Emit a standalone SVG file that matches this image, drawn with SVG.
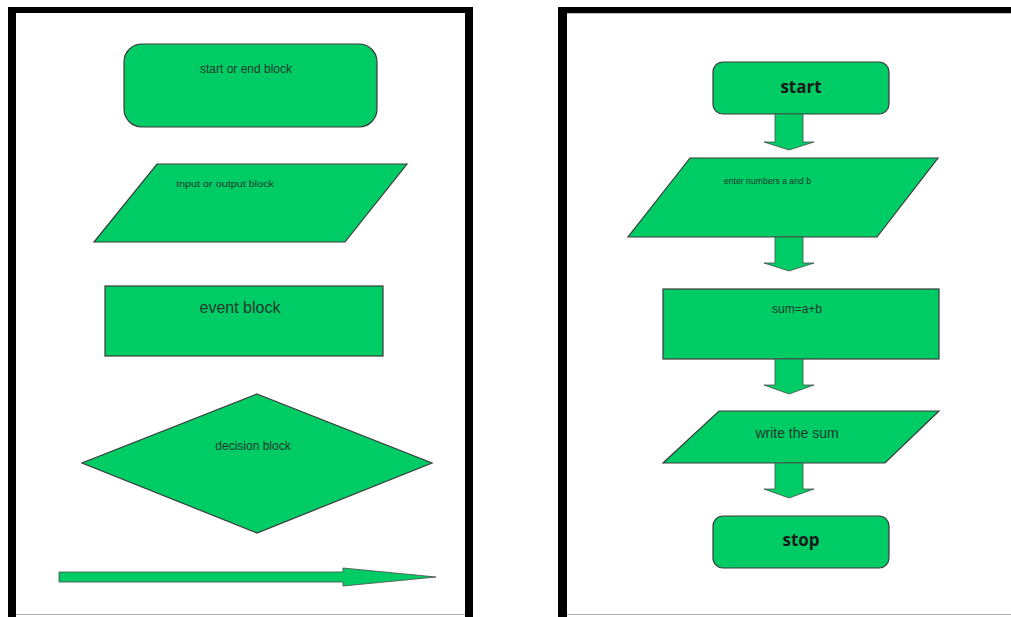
<svg xmlns="http://www.w3.org/2000/svg" width="1011" height="617" viewBox="0 0 1011 617">
<style>
.shape{fill:#00cc66;stroke:#3a3a3a;stroke-width:1.2}
.t{font-family:"Liberation Sans",Arial,sans-serif;fill:#1f3a2a;text-anchor:middle}
.s{font-family:"Liberation Sans",Arial,sans-serif;fill:#1f3a2a;text-anchor:start}
.b{font-family:"Open Sans","Liberation Sans",sans-serif;font-weight:bold;fill:#1a1a1a;text-anchor:middle;font-size:17px}
.arr{fill:#00cc66;stroke:#4a4a4a;stroke-width:0.8}
.bar{fill:#000}
</style>
<rect width="1011" height="617" fill="#ffffff"/>
<g id="panels">
<rect class="bar" x="8" y="7" width="8" height="610"/>
<rect class="bar" x="8" y="7" width="465" height="6"/>
<rect class="bar" x="465" y="7" width="8" height="610"/>
<line x1="16" y1="614.5" x2="465" y2="614.5" stroke="#b0b0b0" stroke-width="1.2"/>
<rect class="bar" x="558" y="7" width="9" height="610"/>
<rect class="bar" x="558" y="7" width="453" height="6"/>
<line x1="567" y1="13.5" x2="1011" y2="13.5" stroke="#c0c0c0" stroke-width="1"/>
<line x1="567" y1="614.5" x2="1011" y2="614.5" stroke="#b0b0b0" stroke-width="1.2"/>
</g>
<g id="legend-start-end">
<rect class="shape" x="124" y="44" width="253" height="83" rx="18"/>
<text class="t" x="246" y="73" font-size="12">start or end block</text>
</g>
<g id="legend-input-output">
<polygon class="shape" points="157,164 407,164 345,242 94,242"/>
<text class="s" x="176" y="187" font-size="9" textLength="98" lengthAdjust="spacingAndGlyphs">Input or output block</text>
</g>
<g id="legend-event">
<rect class="shape" x="105" y="286" width="278" height="70"/>
<text class="t" x="240" y="313" font-size="16">event block</text>
</g>
<g id="legend-decision">
<polygon class="shape" points="257,394 432,463 257,533 82,463"/>
<text class="t" x="253" y="450" font-size="12">decision block</text>
</g>
<g id="legend-arrow">
<polygon class="arr" points="59,572 343,572 343,568 436,577 343,586 343,582 59,582"/>
</g>
<g id="start">
<rect class="shape" x="713" y="62" width="176" height="52" rx="10"/>
<text class="b" x="801" y="93">start</text>
</g>
<g id="input">
<polygon class="shape" points="690,158 938,158 877,237 628,237"/>
<text class="s" x="724" y="184" font-size="8.5" textLength="87" lengthAdjust="spacingAndGlyphs">enter numbers a and b</text>
</g>
<g id="process">
<rect class="shape" x="663" y="289" width="276" height="70"/>
<text class="t" x="797" y="313" font-size="12">sum=a+b</text>
</g>
<g id="output">
<polygon class="shape" points="719,411 939,411 885,463 663,463"/>
<text class="t" x="797" y="438" font-size="14">write the sum</text>
</g>
<g id="stop">
<rect class="shape" x="713" y="516" width="176" height="52" rx="10"/>
<text class="b" x="801" y="546">stop</text>
</g>
<g id="connectors">
<polygon class="arr" points="775,114 803,114 803,142 814,142 789,150 764,142 775,142"/>
<polygon class="arr" points="775,237 803,237 803,263 814,263 789,271 764,263 775,263"/>
<polygon class="arr" points="775,359 803,359 803,385 814,385 789,394 764,385 775,385"/>
<polygon class="arr" points="775,463 803,463 803,489 814,489 789,498 764,489 775,489"/>
</g>
</svg>
